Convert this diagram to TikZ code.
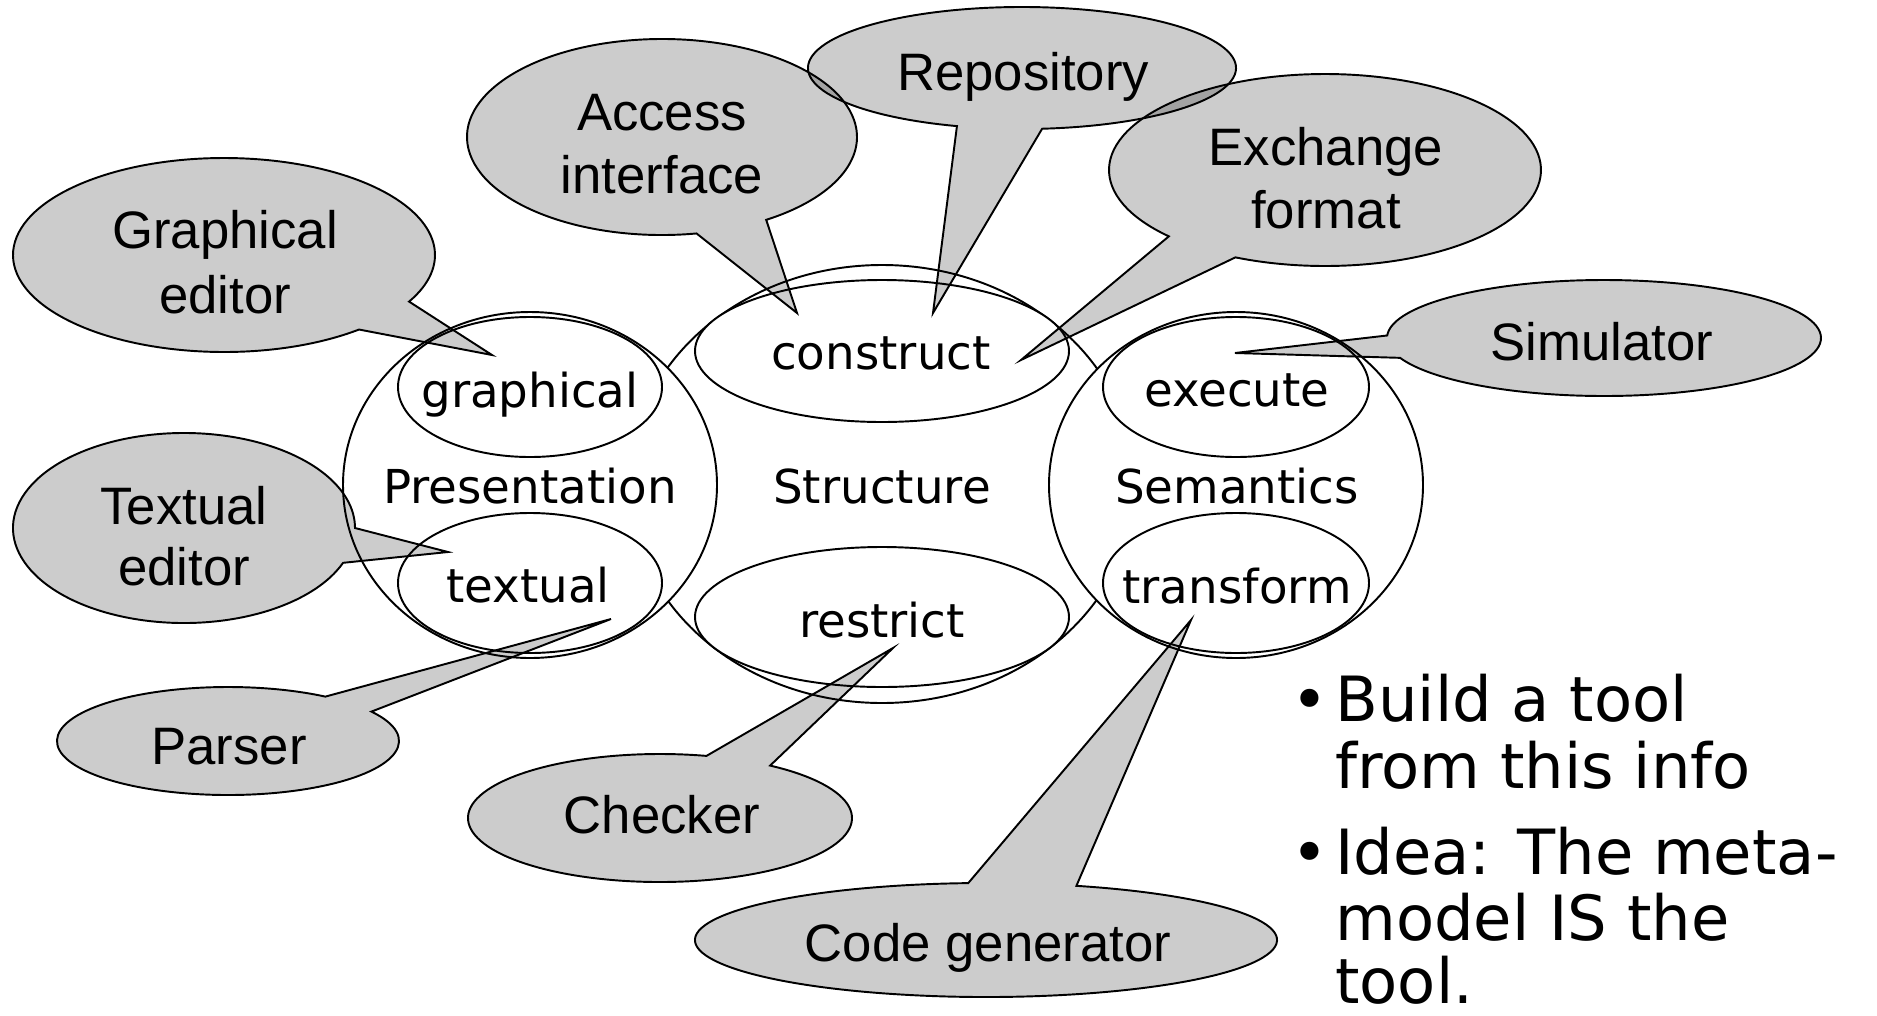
\documentclass[tikz,border=0pt]{standalone}
\usepackage{fontspec}
\newfontfamily\callfont{Liberation Sans}
\newfontfamily\labfont{DejaVu Sans}
\usetikzlibrary{calc}
\tikzset{
  area/.style={draw=black, line width=1.1pt, fill=white},
  callout/.style={draw=black, line width=1.1pt, fill=black, fill opacity=0.2, draw opacity=1, line join=miter},
  calltext/.style={font=\callfont\fontsize{30}{36}\selectfont, anchor=base, inner sep=0pt},
  labtext/.style={font=\labfont\fontsize{26.6}{32}\selectfont, anchor=base, inner sep=0pt},
  bultext/.style={font=\labfont\fontsize{35.5}{42}\selectfont, anchor=base west, inner sep=0pt},
}
% #1 cx, #2 cy, #3 rx, #4 ry, #5 start angle, #6 end angle, #7 tip x, #8 tip y
\newcommand\calloutpath[8]{\path[callout] (#7,#8) -- ($(#1,#2)+(#5:#3 and #4)$) arc[start angle=#5, end angle=#6, x radius=#3, y radius=#4] -- cycle;}
\begin{document}
\begin{tikzpicture}[x=0.02cm, y=-0.02cm]
\useasboundingbox (0,0) rectangle (1877,1015);
% Structure
\draw[area] (882,484) ellipse [x radius=253, y radius=219];
\draw[area] (882,351) ellipse [x radius=187, y radius=71];
\draw[area] (882,617) ellipse [x radius=187, y radius=70];
% Presentation
\draw[area] (530,485) ellipse [x radius=187, y radius=173];
\draw[area] (530,387) ellipse [x radius=132, y radius=70];
\draw[area] (530,583) ellipse [x radius=132, y radius=70];
% Semantics
\draw[area] (1236,485) ellipse [x radius=187, y radius=173];
\draw[area] (1236,387) ellipse [x radius=133, y radius=70];
\draw[area] (1236,583) ellipse [x radius=133, y radius=70];
% labels
\node[labtext] (lgra) at (530,407) {graphical};
\node[labtext] (lpre) at (530,503) {Presentation};
\node[labtext] (ltex) at (528,602) {textual};
\node[labtext] (lcon) at (881,369) {construct};
\node[labtext] (lstr) at (882,503) {Structure};
\node[labtext] (lres) at (882,637) {restrict};
\node[labtext] (lexe) at (1237,406) {execute};
\node[labtext] (lsem) at (1237,503) {Semantics};
\node[labtext] (ltra) at (1237,603) {transform};
% callouts
\calloutpath{224}{255}{211}{97}{50.2}{388.7}{492}{355}
\calloutpath{662}{137}{195}{98}{79.8}{417.7}{797}{313}
\calloutpath{1022}{68}{214}{61}{107.7}{444.6}{933}{313}
\calloutpath{1325}{170}{216}{96}{136.3}{474.5}{1021}{360}
\calloutpath{1604}{338}{217}{58}{182.5}{520}{1235}{353}
\calloutpath{184}{528}{171}{95}{21.5}{360}{448}{552}
\calloutpath{228}{741}{171}{54}{327}{664.7}{611}{619}
\calloutpath{660}{818}{192}{64}{305}{644}{893}{648}
\calloutpath{986}{940}{291}{57}{288.1}{626.5}{1191}{620}
% callout texts
\node[calltext] (ge1) at (225,248) {Graphical};
\node[calltext] (ge2) at (225,313) {editor};
\node[calltext] (ai1) at (662,130) {Access};
\node[calltext] (ai2) at (662,193) {interface};
\node[calltext] (rep) at (1023,90) {Repository};
\node[calltext] (ef1) at (1326,165) {Exchange};
\node[calltext] (ef2) at (1326,228) {format};
\node[calltext] (sim) at (1602,360) {Simulator};
\node[calltext] (te1) at (184,524) {Textual};
\node[calltext] (te2) at (184,585) {editor};
\node[calltext] (par) at (229,764) {Parser};
\node[calltext] (chk) at (662,833) {Checker};
\node[calltext] (cg) at (988,961) {Code generator};
% bullets
\node[bultext] (b1) at (1291,721) {•};
\node[bultext] (t1) at (1335,721) {Build a tool};
\node[bultext] (t2) at (1335,788) {from this info};
\node[bultext] (b2) at (1291,874) {•};
\node[bultext] (t3) at (1335,874) {Idea: The meta-};
\node[bultext] (t4) at (1335,940) {model IS the};
\node[bultext] (t5) at (1335,1003) {tool.};
\end{tikzpicture}
\end{document}
